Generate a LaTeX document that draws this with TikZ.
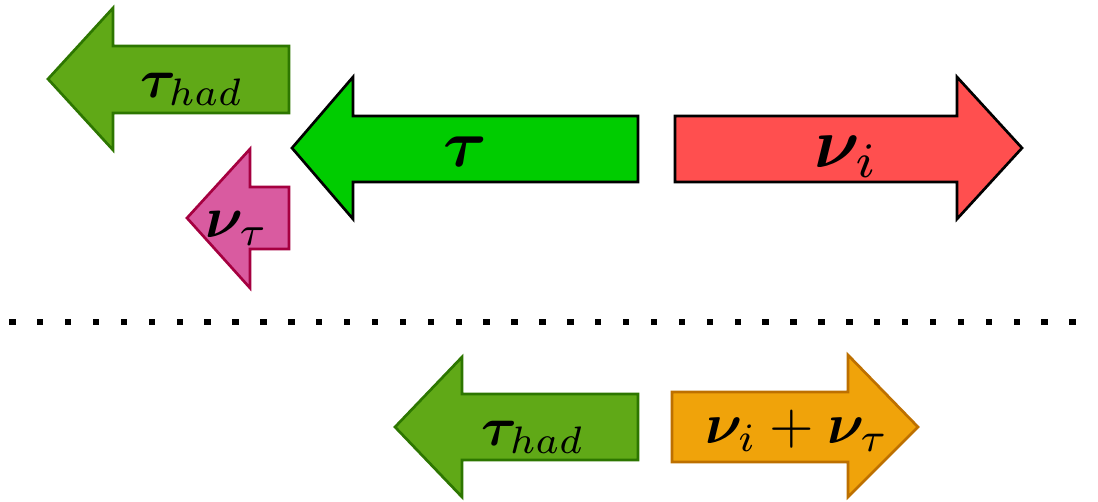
\documentclass[tikz,border=0pt]{standalone}
\usepackage{bm}
\definecolor{hadfill}{HTML}{60A917}
\definecolor{hadline}{HTML}{2D7600}
\definecolor{taufill}{HTML}{00CC00}
\definecolor{nufill}{HTML}{FF4F4F}
\definecolor{ntfill}{HTML}{D95BA0}
\definecolor{ntline}{HTML}{A50040}
\definecolor{sumfill}{HTML}{F0A30A}
\definecolor{sumline}{HTML}{BD7000}
\tikzset{
  arr/.style={line width=2pt, line join=miter},
  hadarr/.style={arr, fill=hadfill, draw=hadline},
  tauarr/.style={arr, fill=taufill, draw=black},
  nuarr/.style={arr, fill=nufill, draw=black},
  ntarr/.style={arr, fill=ntfill, draw=ntline},
  sumarr/.style={arr, fill=sumfill, draw=sumline},
  lbl/.style={anchor=base, inner sep=0pt, outer sep=0pt},
}
\begin{document}
\begin{tikzpicture}[x=0.75pt, y=-0.75pt]
\useasboundingbox (0,0) rectangle (1098,501);
% top-left tau_had
\draw[hadarr] (48,79) -- (113,8) -- (113,46) -- (289,46) -- (289,113) -- (113,113) -- (113,150) -- cycle;
\node[lbl, scale=4.1] (thad1) at (192,97) {$\bm{\tau}_{had}$};
% nu_tau
\draw[ntarr] (187,218) -- (250,149) -- (250,187) -- (289,187) -- (289,249) -- (250,249) -- (250,288) -- cycle;
\node[lbl, scale=4.4] (ntau) at (237,237) {$\bm{\nu}_{\tau}$};
% tau
\draw[tauarr] (292,148) -- (353,77) -- (353,116) -- (638,116) -- (638,182) -- (353,182) -- (353,219) -- cycle;
\node[lbl, scale=5] (tau) at (465,166) {$\bm{\tau}$};
% nu_i
\draw[nuarr] (1022,148) -- (957,77) -- (957,116) -- (675,116) -- (675,182) -- (957,182) -- (957,219) -- cycle;
\node[lbl, scale=5.3] (nui) at (847,167) {$\bm{\nu}_{i}$};
% dotted separator
\foreach \i in {0,...,38} {
  \fill (12.3+27.9*\i-3.2, 318.5) rectangle ++(6.4,6.4);
}
% bottom tau_had
\draw[hadarr] (395,427) -- (462,357) -- (462,394) -- (638,394) -- (638,460) -- (462,460) -- (462,497) -- cycle;
\node[lbl, scale=4.1] (thad2) at (533,445) {$\bm{\tau}_{had}$};
% nu_i + nu_tau
\draw[sumarr] (918,427) -- (848,355) -- (848,392) -- (672,392) -- (672,462) -- (848,462) -- (848,497) -- cycle;
\node[lbl, scale=4.3] (sum) at (797,443) {$\bm{\nu}_{i}+\bm{\nu}_{\tau}$};
\end{tikzpicture}
\end{document}
